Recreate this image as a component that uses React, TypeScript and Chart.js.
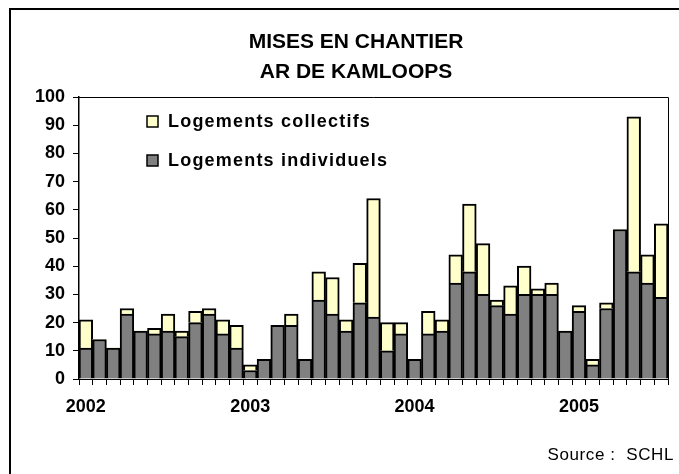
import React, { useEffect, useRef } from 'react';
import { Chart, registerables } from 'chart.js';

Chart.register(...registerables);

const FONT = '"Liberation Sans", Arial, sans-serif';

const TITLE_LINES = ['MISES EN CHANTIER', 'AR DE KAMLOOPS'];
const SOURCE_TEXT = 'Source :  SCHL';
const YEARS = ['2002', '2003', '2004', '2005'];
const MONTHS_PER_YEAR = [12, 12, 12, 7];
const SERIES_NAMES = ['Logements collectifs', 'Logements individuels'];

// Logements individuels (monthly, Jan 2002 - Jul 2005)
const individuels = [
  11, 14, 11, 23, 17, 16, 17, 15, 20, 23, 16, 11,
  3, 7, 19, 19, 7, 28, 23, 17, 27, 22, 10, 16,
  7, 16, 17, 34, 38, 30, 26, 23, 30, 30, 30, 17,
  24, 5, 25, 53, 38, 34, 29,
];

// Logements collectifs (monthly, Jan 2002 - Jul 2005)
const collectifs = [
  10, 0, 0, 2, 0, 2, 6, 2, 4, 2, 5, 8,
  2, 0, 0, 4, 0, 10, 13, 4, 14, 42, 10, 4,
  0, 8, 4, 10, 24, 18, 2, 10, 10, 2, 4, 0,
  2, 2, 2, 0, 55, 10, 26,
];

const Y_MIN = 0;
const Y_MAX = 100;
const Y_STEP = 10;

const COLORS = { collectifs: '#FFFFCC', individuels: '#808080' };

const labels: string[] = [];
YEARS.forEach((y, yi) => {
  for (let m = 1; m <= MONTHS_PER_YEAR[yi]; m++) labels.push(`${y}-${String(m).padStart(2, '0')}`);
});

const decorPlugin = {
  id: 'decor',
  afterDraw(chart: any) {
    const ctx: CanvasRenderingContext2D = chart.ctx;
    const area = chart.chartArea;
    ctx.save();
    // outer frame
    ctx.strokeStyle = '#000';
    ctx.lineWidth = 2;
    ctx.beginPath();
    ctx.moveTo(10, 474);
    ctx.lineTo(10, 9);
    ctx.lineTo(679, 9);
    ctx.stroke();

    // plot border
    ctx.lineWidth = 1;
    ctx.strokeStyle = '#000';
    ctx.beginPath();
    ctx.moveTo(area.left, area.top + 0.5);
    ctx.lineTo(area.right + 0.5, area.top + 0.5);
    ctx.lineTo(area.right + 0.5, area.bottom);
    ctx.stroke();

    // title
    ctx.fillStyle = '#000';
    ctx.textAlign = 'center';
    ctx.textBaseline = 'middle';
    ctx.font = `bold 21px ${FONT}`;
    ctx.fillText(TITLE_LINES[0], 356, 42);
    ctx.fillText(TITLE_LINES[1], 356, 72);

    // source
    ctx.font = `17px ${FONT}`;
    (ctx as any).letterSpacing = '0.6px';
    ctx.textAlign = 'right';
    ctx.fillText(SOURCE_TEXT, 674, 455);
    (ctx as any).letterSpacing = '0px';

    // legend
    const items = [
      { text: SERIES_NAMES[0], color: COLORS.collectifs, y: 121 },
      { text: SERIES_NAMES[1], color: COLORS.individuels, y: 160 },
    ];
    items.forEach((it) => {
      ctx.fillStyle = it.color;
      ctx.fillRect(147, it.y - 5, 11, 11);
      ctx.strokeStyle = '#000';
      ctx.lineWidth = 1.5;
      ctx.strokeRect(147, it.y - 5, 11, 11);
      ctx.fillStyle = '#000';
      ctx.textAlign = 'left';
      ctx.font = `bold 18px ${FONT}`;
      (ctx as any).letterSpacing = '1.2px';
      ctx.fillText(it.text, 168, it.y + 1);
      (ctx as any).letterSpacing = '0px';
    });
    ctx.restore();
  },
};

export default function App() {
  const ref = useRef<HTMLCanvasElement | null>(null);
  useEffect(() => {
    if (!ref.current) return;
    const bw = (c: any) => (c.raw === 0 ? 0 : 2);
    const chart = new Chart(ref.current, {
      type: 'bar',
      data: {
        labels,
        datasets: [
          {
            label: SERIES_NAMES[1],
            data: individuels,
            backgroundColor: COLORS.individuels,
            borderColor: '#000',
            borderWidth: bw,
            barPercentage: 1,
            categoryPercentage: 1,
          },
          {
            label: SERIES_NAMES[0],
            data: collectifs,
            backgroundColor: COLORS.collectifs,
            borderColor: '#000',
            borderWidth: bw,
            barPercentage: 1,
            categoryPercentage: 1,
          },
        ],
      },
      options: {
        responsive: false,
        animation: false,
        devicePixelRatio: 1,
        layout: { padding: { top: 97, right: 11, left: 0, bottom: 0 } },
        plugins: {
          legend: { display: false },
          title: { display: false },
          tooltip: { enabled: false },
        },
        scales: {
          x: {
            stacked: true,
            ticks: {
              autoSkip: false,
              maxRotation: 0,
              minRotation: 0,
              color: '#000',
              padding: 11,
              font: { family: FONT, size: 18, weight: 'bold' },
              callback: (_v: any, i: number) => (i % 12 === 0 ? YEARS[i / 12] : ''),
            },
            grid: { offset: true, drawOnChartArea: false, drawTicks: true, tickLength: 6, color: '#000' },
            border: { color: '#000', width: 1 },
            afterFit: (s: any) => {
              s.height = 95;
            },
          },
          y: {
            stacked: true,
            min: Y_MIN,
            max: Y_MAX,
            ticks: {
              stepSize: Y_STEP,
              color: '#000',
              padding: 8,
              font: { family: FONT, size: 18, weight: 'bold' },
            },
            grid: { drawOnChartArea: false, drawTicks: true, tickLength: 6, color: '#000' },
            border: { color: '#000', width: 1.5 },
            afterFit: (s: any) => {
              s.width = 79;
            },
          },
        },
      },
      plugins: [decorPlugin],
    });
    return () => chart.destroy();
  }, []);
  return (
    <div style={{ position: 'absolute', left: 0, top: 0, width: 679, height: 474, background: '#fff' }}>
      <canvas ref={ref} width={679} height={474} style={{ display: 'block' }} />
    </div>
  );
}
